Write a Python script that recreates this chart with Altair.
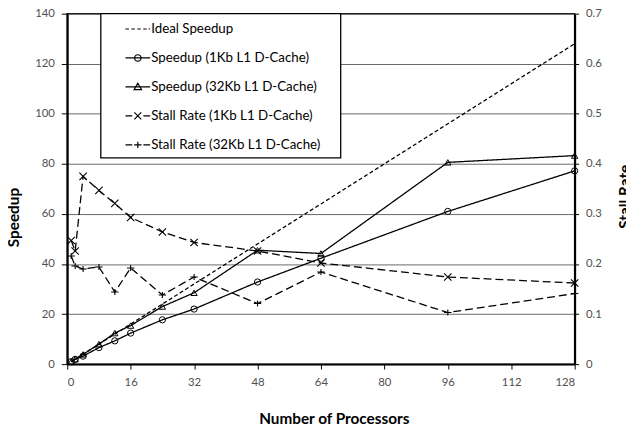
import altair as alt
import pandas as pd

# ---------------- data ----------------
procs = [1, 2, 4, 8, 12, 16, 24, 32, 48, 64, 96, 128]
ideal_speedup = [1, 2, 4, 8, 12, 16, 24, 32, 48, 64, 96, 128]
speedup_1kb = [1.0, 1.9, 3.2, 6.6, 9.3, 12.4, 17.7, 22.0, 32.8, 42.3, 61.0, 77.2]
speedup_32kb = [1.0, 2.0, 3.9, 8.0, 12.4, 15.4, 23.0, 28.5, 45.5, 44.2, 80.6, 83.3]
stall_1kb = [0.247, 0.226, 0.375, 0.347, 0.321, 0.293, 0.264, 0.243, 0.226, 0.202, 0.174, 0.162]
stall_32kb = [0.216, 0.196, 0.190, 0.194, 0.144, 0.192, 0.138, 0.174, 0.121, 0.184, 0.103, 0.141]

series_names = [
    "Ideal Speedup",
    "Speedup (1Kb L1 D-Cache)",
    "Speedup (32Kb L1 D-Cache)",
    "Stall Rate (1Kb L1 D-Cache)",
    "Stall Rate (32Kb L1 D-Cache)",
]
speed_names = series_names[:3]
stall_names = series_names[3:]
x_ticks = [0, 16, 32, 48, 64, 80, 96, 112, 128]
speed_ticks = [0, 20, 40, 60, 80, 100, 120, 140]
stall_ticks = [0, 0.1, 0.2, 0.3, 0.4, 0.5, 0.6, 0.7]

# ---------------- tables ----------------
speed_df = pd.DataFrame({
    "procs": procs * 3,
    "value": ideal_speedup + speedup_1kb + speedup_32kb,
    "series": [speed_names[0]] * len(procs) + [speed_names[1]] * len(procs) + [speed_names[2]] * len(procs),
})
stall_df = pd.DataFrame({
    "procs": procs * 2,
    "value": stall_1kb + stall_32kb,
    "series": [stall_names[0]] * len(procs) + [stall_names[1]] * len(procs),
})
legend_df = pd.DataFrame({"series": series_names})
box_df = pd.DataFrame({"box": ["legend"]})

FONT = "Lato"

# marker paths (unit square -1..1)
X_PATH = "M-1,-1L1,1M-1,1L1,-1"
PLUS_PATH = "M-1,0L1,0M0,-0.8L0,0.8"

# legend symbol paths: line segment with marker
LEG_IDEAL = "M-1,0H-0.72M-0.52,0H-0.24M-0.04,0H0.24M0.44,0H0.72M0.88,0H1"
LEG_1KB = "M-1,0H1M-0.26,0A0.26,0.26 0 1,0 0.26,0A0.26,0.26 0 1,0 -0.26,0"
LEG_32KB = "M-1,0H1M0,-0.3L0.3,0.22L-0.3,0.22Z"
LEG_ST1 = "M-1,0H-0.45M0.45,0H1M-0.28,-0.28L0.28,0.28M-0.28,0.28L0.28,-0.28"
LEG_ST32 = "M-1,0H-0.45M0.45,0H1M-0.3,0H0.3M0,-0.25V0.25"

x_enc = alt.X(
    "procs:Q",
    scale=alt.Scale(domain=[0, 128], nice=False, zero=False),
    axis=alt.Axis(values=x_ticks, title="Number of Processors", tickSize=5,
                  labelPadding=8, titleX=270, titleY=55, titleBaseline="middle",
                  grid=False),
)
y_speed = alt.Y(
    "value:Q",
    scale=alt.Scale(domain=[0, 140], nice=False),
    axis=alt.Axis(orient="left", values=speed_ticks, title="Speedup", tickSize=6,
                  labelPadding=7, grid=True, titleX=-54, titleY=206,
                  titleBaseline="middle"),
)
y_stall = alt.Y(
    "value:Q",
    scale=alt.Scale(domain=[0, 0.7], nice=False),
    axis=alt.Axis(orient="right", values=stall_ticks, title="Stall Rate", tickSize=4,
                  labelPadding=7, grid=False, titleX=51, titleY=185,
                  titleAngle=270, titleBaseline="middle",
                  labelExpr="datum.value == 0 ? '0' : format(datum.value, '.1f')"),
)

# white framed background of the legend (covers the gridlines behind it)
legend_box = alt.Chart(box_df).mark_rect(
    fill="white", stroke="black", strokeWidth=1.3
).encode(
    x=alt.value(34), x2=alt.value(277), y=alt.value(0), y2=alt.value(146)
)

speed_lines = alt.Chart(speed_df).mark_line(color="black", strokeWidth=1.3).encode(
    x=x_enc, y=y_speed,
    strokeDash=alt.StrokeDash("series:N",
                              scale=alt.Scale(domain=speed_names, range=[[4, 2.5], [1, 0], [1, 0]]),
                              legend=None),
)
speed_points = alt.Chart(speed_df).transform_filter(
    alt.datum.series != speed_names[0]
).mark_point(filled=False, color="black", size=40, strokeWidth=1, opacity=1).encode(
    x=x_enc, y=y_speed,
    shape=alt.Shape("series:N",
                    scale=alt.Scale(domain=speed_names[1:], range=["circle", "triangle-up"]),
                    legend=None),
)
stall_lines = alt.Chart(stall_df).mark_line(color="black", strokeWidth=1.3).encode(
    x=x_enc, y=y_stall,
    strokeDash=alt.StrokeDash("series:N",
                              scale=alt.Scale(domain=stall_names, range=[[8, 4], [8, 4]]),
                              legend=None),
)
stall_points = alt.Chart(stall_df).mark_point(
    filled=False, color="black", size=56, strokeWidth=1.1, opacity=1
).encode(
    x=x_enc, y=y_stall,
    shape=alt.Shape("series:N",
                    scale=alt.Scale(domain=stall_names, range=[X_PATH, PLUS_PATH]),
                    legend=None),
)

legend_layer = alt.Chart(legend_df).transform_filter("false").mark_point(
    filled=False, color="black", size=625, strokeWidth=1.2, opacity=1
).encode(
    shape=alt.Shape(
        "series:N",
        scale=alt.Scale(domain=series_names,
                        range=[LEG_IDEAL, LEG_1KB, LEG_32KB, LEG_ST1, LEG_ST32]),
        legend=alt.Legend(
            orient="none", legendX=58, legendY=2, title=None,
            padding=0, rowPadding=9.35,
            symbolSize=625, symbolStrokeWidth=1.2, symbolStrokeColor="black",
            symbolFillColor="transparent",
            labelFont=FONT, labelFontSize=13.5, labelColor="black", labelLimit=400,
            labelOffset=0,
        ),
    ),
)

speed = alt.layer(speed_lines, speed_points)
stall = alt.layer(stall_lines, stall_points)

chart = alt.layer(legend_box, speed, stall, legend_layer).resolve_scale(
    y="independent", shape="independent", strokeDash="independent"
).properties(
    width=514, height=355,
    autosize=alt.AutoSizeParams(type="none"),
    padding={"left": 60, "top": 3, "right": 52, "bottom": 66},
).configure_view(
    stroke="black", strokeWidth=1.5
).configure_axis(
    labelFont=FONT, titleFont=FONT, labelColor="#505050", labelFontSize=11.5,
    titleFontSize=15.5, titleFontWeight="bold", titleColor="black",
    domainColor="black", domainWidth=2, tickColor="black", tickWidth=1,
    gridColor="#6a6a6a", gridWidth=1,
)

chart.save("out.html", embed_options={"renderer": "svg", "actions": False})
